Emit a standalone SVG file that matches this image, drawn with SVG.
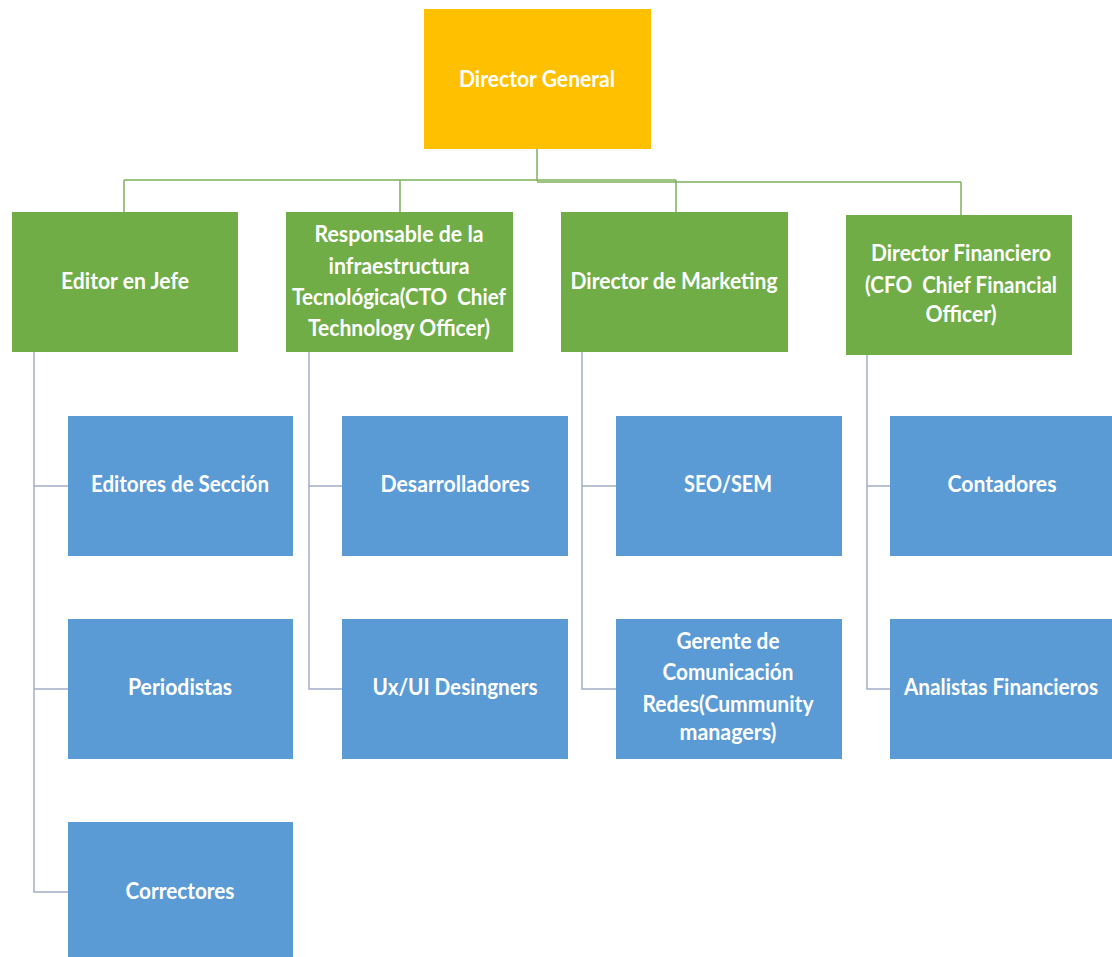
<svg xmlns="http://www.w3.org/2000/svg" width="1112" height="957" viewBox="0 0 1112 957">
<style>
.gold{fill:#FFC000}
.green{fill:#70AD47}
.blue{fill:#5B9BD5}
.t{font-family:Lato,"Liberation Sans",sans-serif;font-weight:bold;font-size:22px;fill:#ffffff;text-anchor:middle;white-space:pre}
.cg{stroke:#7DB15A;stroke-width:1.5;fill:none}
.cb{stroke:#A3AFC8;stroke-width:1.5;fill:none}
</style>
<rect width="1112" height="957" fill="#ffffff"/>
<g id="connectors">
<path class="cg" d="M537 149V181M124 180H676M537 182H961M124 180V212M400 180V212M676 180V212M961 182V215"/>
<path class="cb" d="M34 352V892H68M34 486H68M34 689H68"/>
<path class="cb" d="M309 352V689H342M309 486H342"/>
<path class="cb" d="M582 352V689H616M582 486H616"/>
<path class="cb" d="M867 355V689H890M867 486H890"/>
</g>
<g id="director-general"><rect class="gold" x="424" y="9" width="227" height="140"/><text class="t" x="537" y="87" textLength="156" lengthAdjust="spacingAndGlyphs">Director General</text></g>
<g id="editor-jefe"><rect class="green" x="12" y="212" width="226" height="140"/><text class="t" x="125" y="289" textLength="128" lengthAdjust="spacingAndGlyphs">Editor en Jefe</text></g>
<g id="cto"><rect class="green" x="286" y="212" width="227" height="140"/>
<text class="t" x="399" y="242" textLength="169" lengthAdjust="spacingAndGlyphs">Responsable de la</text>
<text class="t" x="399" y="274" textLength="141" lengthAdjust="spacingAndGlyphs">infraestructura</text>
<text class="t" x="399" y="305" textLength="214" lengthAdjust="spacingAndGlyphs" xml:space="preserve">Tecnológica(CTO  Chief</text>
<text class="t" x="399" y="336" textLength="182" lengthAdjust="spacingAndGlyphs">Technology Officer)</text></g>
<g id="marketing"><rect class="green" x="561" y="212" width="227" height="140"/><text class="t" x="674" y="289" textLength="207" lengthAdjust="spacingAndGlyphs">Director de Marketing</text></g>
<g id="cfo"><rect class="green" x="846" y="215" width="226" height="140"/>
<text class="t" x="961" y="261" textLength="180" lengthAdjust="spacingAndGlyphs">Director Financiero</text>
<text class="t" x="961" y="293" textLength="192" lengthAdjust="spacingAndGlyphs" xml:space="preserve">(CFO  Chief Financial</text>
<text class="t" x="961" y="322" textLength="71" lengthAdjust="spacingAndGlyphs">Officer)</text></g>
<g id="editores-seccion"><rect class="blue" x="68" y="416" width="225" height="140"/><text class="t" x="180" y="492" textLength="178" lengthAdjust="spacingAndGlyphs">Editores de Sección</text></g>
<g id="periodistas"><rect class="blue" x="68" y="619" width="225" height="140"/><text class="t" x="180" y="695" textLength="104" lengthAdjust="spacingAndGlyphs">Periodistas</text></g>
<g id="correctores"><rect class="blue" x="68" y="822" width="225" height="140"/><text class="t" x="180" y="899" textLength="109" lengthAdjust="spacingAndGlyphs">Correctores</text></g>
<g id="desarrolladores"><rect class="blue" x="342" y="416" width="226" height="140"/><text class="t" x="455" y="492" textLength="149" lengthAdjust="spacingAndGlyphs">Desarrolladores</text></g>
<g id="uxui"><rect class="blue" x="342" y="619" width="226" height="140"/><text class="t" x="455" y="695" textLength="165" lengthAdjust="spacingAndGlyphs">Ux/UI Desingners</text></g>
<g id="seo-sem"><rect class="blue" x="616" y="416" width="226" height="140"/><text class="t" x="728" y="492" textLength="88" lengthAdjust="spacingAndGlyphs">SEO/SEM</text></g>
<g id="gerente-comunicacion"><rect class="blue" x="616" y="619" width="226" height="140"/>
<text class="t" x="728" y="649" textLength="103" lengthAdjust="spacingAndGlyphs">Gerente de</text>
<text class="t" x="728" y="680" textLength="131" lengthAdjust="spacingAndGlyphs">Comunicación</text>
<text class="t" x="728" y="712" textLength="171" lengthAdjust="spacingAndGlyphs">Redes(Cummunity</text>
<text class="t" x="728" y="740" textLength="97" lengthAdjust="spacingAndGlyphs">managers)</text></g>
<g id="contadores"><rect class="blue" x="890" y="416" width="226" height="140"/><text class="t" x="1002" y="492" textLength="109" lengthAdjust="spacingAndGlyphs">Contadores</text></g>
<g id="analistas"><rect class="blue" x="890" y="619" width="226" height="140"/><text class="t" x="1001" y="695" textLength="194" lengthAdjust="spacingAndGlyphs">Analistas Financieros</text></g>
</svg>
